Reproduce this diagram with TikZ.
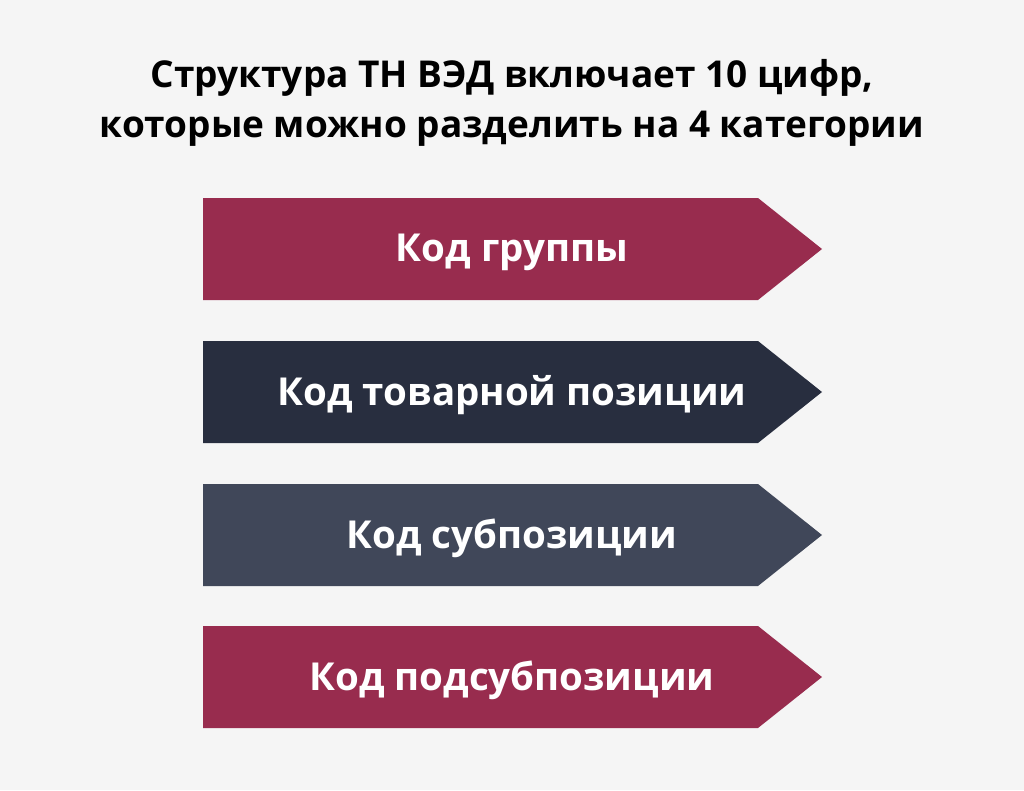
\documentclass[tikz,border=0pt]{standalone}
\usepackage{fontspec}
\setmainfont{Open Sans}
\definecolor{bgray}{HTML}{F5F5F5}
\definecolor{crimson}{HTML}{982C4E}
\definecolor{navy}{HTML}{282E3F}
\definecolor{slate}{HTML}{404759}
\begin{document}
\begin{tikzpicture}[x=1pt, y=-1pt,
    title/.style={font=\fontsize{37}{50}\selectfont\bfseries, align=center, text=black},
    label/.style={font=\fontsize{38.5}{40}\selectfont\bfseries, text=white}]
        \fill [bgray] (0,0) rectangle (1024,790);
        \useasboundingbox (0,0) rectangle (1024,790);
        \node [title] (head) at (512,103) {Структура ТН ВЭД включает 10 цифр,\\ которые можно разделить на 4 категории};
        \foreach \y/\txt/\col [count=\i] in {249/Код группы/crimson, 392/Код товарной позиции/navy,
                535/Код субпозиции/slate, 677/Код подсубпозиции/crimson}
        {
            \fill [\col] (203,\y-51) -- (758,\y-51) -- (822,\y) -- (758,\y+51) -- (203,\y+51) -- cycle;
            \node [label] (cat\i) at (512,\y+3) {\txt};
        }
    \end{tikzpicture}
\end{document}
